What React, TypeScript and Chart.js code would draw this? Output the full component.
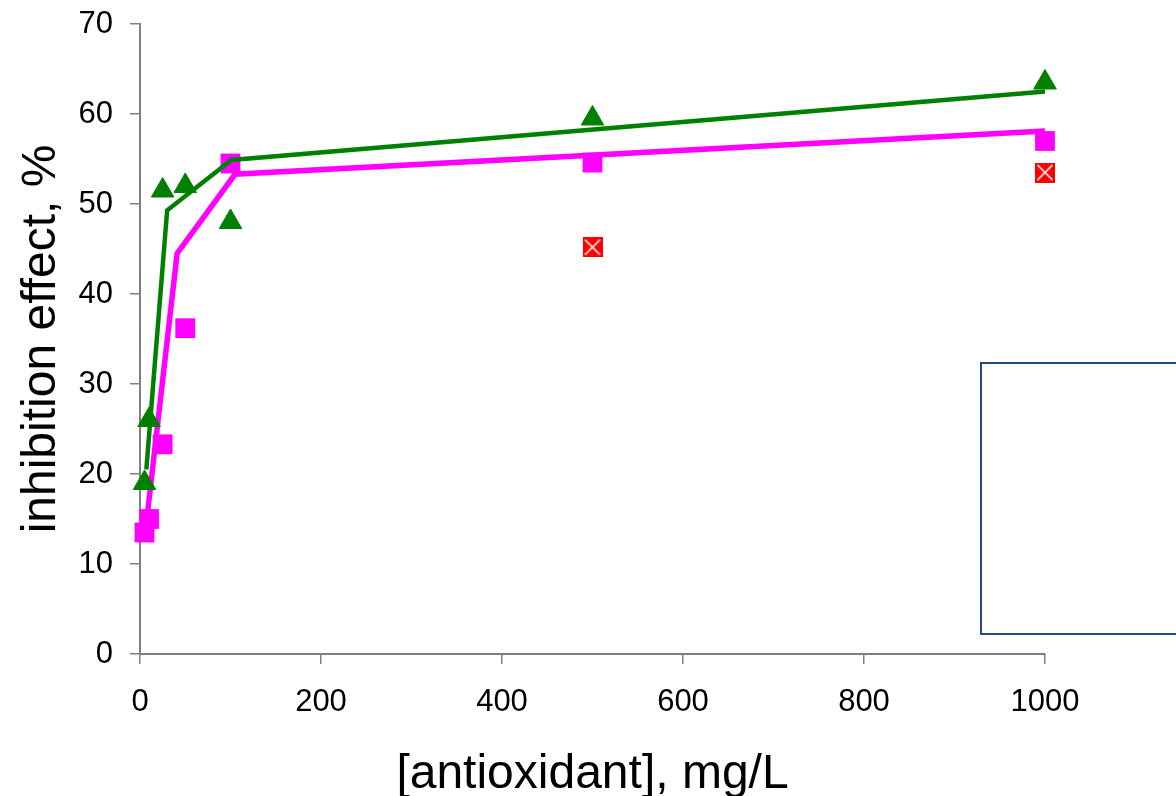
import React, { useEffect, useRef } from "react";
import { Chart, registerables } from "chart.js";

Chart.register(...registerables);

// Measured points
const xPoints = [5, 10, 25, 50, 100, 500, 1000];
const greenValues = [19, 26, 51.5, 52, 48, 59.5, 63.5];
const magentaValues = [13.5, 15, 23.3, 36.2, 54.5, 54.6, 57];
const redX = [500, 1000];
const redValues = [45.2, 53.5];

// Fitted curves
const greenLineX = [7, 30, 101, 1000];
const greenLineY = [20.5, 49.3, 54.9, 62.5];
const magentaLineX = [7, 41, 105, 1000];
const magentaLineY = [14.5, 44.5, 53.3, 58.1];

const xTicks = [0, 200, 400, 600, 800, 1000];
const yTicks = [0, 10, 20, 30, 40, 50, 60, 70];

const toXY = (xs: number[], ys: number[]) => xs.map((x, i) => ({ x, y: ys[i] }));

function makeCrossSquare(): HTMLCanvasElement {
  const c = document.createElement("canvas");
  const s = 20;
  c.width = s;
  c.height = s;
  const g = c.getContext("2d")!;
  g.fillStyle = "#ff0000";
  g.fillRect(0, 0, s, s);
  g.strokeStyle = "#ffffff";
  g.lineWidth = 1.6;
  g.beginPath();
  g.moveTo(2.5, 2.5);
  g.lineTo(s - 2.5, s - 2.5);
  g.moveTo(s - 2.5, 2.5);
  g.lineTo(2.5, s - 2.5);
  g.stroke();
  return c;
}

const boxPlugin = {
  id: "emptyLegendBox",
  afterDraw(chart: any) {
    const ctx = chart.ctx;
    ctx.save();
    ctx.strokeStyle = "#24497a";
    ctx.lineWidth = 2;
    ctx.strokeRect(981, 363, 400, 271);
    ctx.restore();
  },
};

const FONT = "'Liberation Sans', Arial, sans-serif";

export default function App() {
  const ref = useRef<HTMLCanvasElement | null>(null);
  useEffect(() => {
    if (!ref.current) return;
    const cross = makeCrossSquare();
    const chart = new Chart(ref.current, {
      type: "scatter",
      data: {
        datasets: [
          {
            label: "red",
            data: toXY(redX, redValues),
            pointStyle: cross as any,
            pointRadius: 10,
            showLine: false,
            clip: false,
            order: 0,
          },
          {
            label: "green fit",
            data: toXY(greenLineX, greenLineY),
            showLine: true,
            borderColor: "#008000",
            borderWidth: 4.5,
            pointRadius: 0,
            clip: false,
            order: 1,
          },
          {
            label: "green",
            data: toXY(xPoints, greenValues),
            showLine: false,
            pointStyle: "triangle",
            pointRadius: 13,
            backgroundColor: "#008000",
            borderColor: "#008000",
            borderWidth: 1,
            clip: false,
            order: 2,
          },
          {
            label: "magenta fit",
            data: toXY(magentaLineX, magentaLineY),
            showLine: true,
            borderColor: "#ff00ff",
            borderWidth: 5.5,
            pointRadius: 0,
            clip: false,
            order: 3,
          },
          {
            label: "magenta",
            data: toXY(xPoints, magentaValues),
            showLine: false,
            pointStyle: "rect",
            pointRadius: 14,
            backgroundColor: "#ff00ff",
            borderColor: "#ff00ff",
            borderWidth: 0,
            clip: false,
            order: 4,
          },
        ],
      },
      options: {
        animation: false,
        responsive: true,
        maintainAspectRatio: false,
        layout: { padding: { top: 24, right: 131, left: 0, bottom: 0 } },
        plugins: { legend: { display: false }, tooltip: { enabled: false } },
        scales: {
          x: {
            type: "linear",
            min: 0,
            max: 1000,
            afterFit: (s: any) => {
              s.height = 152;
              s.paddingLeft = 0;
              s.paddingRight = 0;
            },
            afterBuildTicks: (s: any) => {
              s.ticks = xTicks.map((v) => ({ value: v }));
            },
            ticks: {
              color: "#000000",
              padding: 20,
              callback: (v: any) => String(v),
              font: { family: FONT, size: 31 },
            },
            grid: {
              drawOnChartArea: false,
              drawTicks: true,
              tickLength: 10,
              color: "#808080",
              lineWidth: 1.5,
            },
            border: { color: "#808080", width: 2 },
            title: {
              display: true,
              text: "[antioxidant], mg/L",
              color: "#000000",
              padding: 2,
              font: { family: FONT, size: 48 },
            },
          },
          y: {
            type: "linear",
            min: 0,
            max: 70,
            afterFit: (s: any) => {
              s.width = 140;
              s.paddingTop = 0;
              s.paddingBottom = 0;
            },
            afterBuildTicks: (s: any) => {
              s.ticks = yTicks.map((v) => ({ value: v }));
            },
            ticks: {
              color: "#000000",
              padding: 17,
              callback: (v: any) => String(v),
              font: { family: FONT, size: 31 },
            },
            grid: {
              drawOnChartArea: false,
              drawTicks: true,
              tickLength: 10,
              color: "#808080",
              lineWidth: 1.5,
            },
            border: { color: "#808080", width: 2 },
            title: {
              display: true,
              text: "inhibition effect, %",
              color: "#000000",
              padding: 13,
              font: { family: FONT, size: 48 },
            },
          },
        },
      },
      plugins: [boxPlugin],
    });
    return () => chart.destroy();
  }, []);

  return (
    <div
      style={{
        position: "fixed",
        left: 0,
        top: 0,
        width: 1176,
        height: 806,
        background: "#ffffff",
      }}
    >
      <canvas ref={ref} />
    </div>
  );
}
